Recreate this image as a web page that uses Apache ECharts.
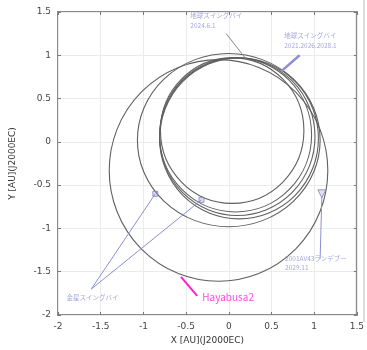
<!DOCTYPE html>
<html><head><meta charset="utf-8">
<script src="https://cdn.jsdelivr.net/npm/echarts@6/dist/echarts.min.js"></script>
<style>html,body{margin:0;padding:0;background:#fff}#c{width:367px;height:350px}</style>
</head><body><div id="c"></div>
<script>
// Orbits: centre x, centre y, radius x, radius y (AU)
var orbitCx = [-0.12, 0.00, 0.12, 0.08, 0.04, 0.10];
var orbitCy = [-0.33, 0.02, 0.04, 0.08, 0.13, 0.06];
var orbitRx = [1.28, 1.07, 0.93, 0.89, 0.84, 0.91];
var orbitRy = [1.28, 1.00, 0.93, 0.89, 0.84, 0.91];

// Event points
var swingPtsX = [-0.86, -0.32];
var swingPtsY = [-0.60, -0.67];
var arrivalX = [1.09];
var arrivalY = [-0.60];

// Annotation texts
var lblTopLeft = ['地球スイングバイ', '2024.6.1'];
var lblTopRight = ['地球スイングバイ', '2021.2026.2028.1'];
var lblBottomRight = ['2001AV43ランデブー', '2029.11'];
var lblBottomLeft = ['金星スイングバイ'];
var lblCraft = 'Hayabusa2';

// Annotation anchors (data coords)
var leadTopLeft = [[-0.03, 1.25], [0.20, 0.96]];
var leadTopRight = [[0.83, 1.00], [0.62, 0.82]];
var leadBottomRight = [[1.07, -1.35], [1.09, -0.63]];
var leadBottomLeftA = [[-1.61, -1.70], [-0.86, -0.60]];
var leadBottomLeftB = [[-1.61, -1.70], [-0.32, -0.67]];
var leadCraft = [[-0.56, -1.56], [-0.37, -1.78]];
var posTopLeft = [-0.45, 1.40];
var posTopRight = [0.65, 1.17];
var posBottomRight = [0.66, -1.40];
var posBottomLeft = [-1.90, -1.80];
var posCraft = [-0.31, -1.79];

var xTicks = [-2, -1.5, -1, -0.5, 0, 0.5, 1, 1.5];
var yTicks = [-2, -1.5, -1, -0.5, 0, 0.5, 1, 1.5];

var orbitData = orbitCx.map(function (c, i) { return [c, orbitCy[i], orbitRx[i], orbitRy[i]]; });

var annoColor = '#8c8fd2';
var chart = echarts.init(document.getElementById('c'));

function leader(pts, color, w) {
  return { type: 'line', data: pts, symbol: 'none', silent: true, z: 4,
    lineStyle: { color: color || annoColor, width: w || 1 }, animation: false };
}
function textSeries(pos, lines, color, size) {
  return { type: 'scatter', data: [pos], symbolSize: 0, silent: true, z: 6, animation: false,
    label: { show: true, position: 'inside', formatter: lines.join('\n'), color: color, fontSize: size,
      fontFamily: 'Noto Sans CJK JP', align: 'left', verticalAlign: 'middle', lineHeight: size + 3 } };
}
function baseAxis(pos, labels, fmtTicks) {
  return {
    type: 'value', min: -2, max: 1.5, interval: 0.5, position: pos,
    axisLine: { show: false, onZero: false },
    axisTick: { show: true, inside: true, length: 3, lineStyle: { color: '#777' } },
    axisLabel: labels ? { color: '#444', fontSize: 9, margin: 7, fontFamily: 'DejaVu Sans',
      formatter: function (v) { return fmtTicks.indexOf(v) >= 0 ? String(v) : ''; } } : { show: false },
    splitLine: { show: labels, lineStyle: { color: '#ebebeb', width: 1 } }
  };
}
var xMain = baseAxis('bottom', true, xTicks);
xMain.name = 'X [AU](J2000EC)'; xMain.nameLocation = 'middle'; xMain.nameGap = 19;
xMain.nameTextStyle = { color: '#333', fontSize: 9, fontFamily: 'DejaVu Sans' };
var yMain = baseAxis('left', true, yTicks);
yMain.name = 'Y [AU](J2000EC)'; yMain.nameLocation = 'middle'; yMain.nameGap = 41;
yMain.nameTextStyle = { color: '#333', fontSize: 9, fontFamily: 'DejaVu Sans' };

chart.setOption({
  animation: false,
  grid: { left: 54, right: 9, top: 12, bottom: 35, show: true, borderColor: '#8a8a8a', borderWidth: 2 },
  xAxis: [xMain, baseAxis('top', false, xTicks)],
  yAxis: [yMain, baseAxis('right', false, yTicks)],
  series: [
    {
      type: 'custom', data: orbitData, z: 3, silent: true, clip: true,
      renderItem: function (params, api) {
        var c = api.coord([api.value(0), api.value(1)]);
        var s = api.size([api.value(2), api.value(3)]);
        return {
          type: 'circle', x: c[0], y: c[1], scaleX: 1, scaleY: s[1] / s[0],
          shape: { cx: 0, cy: 0, r: s[0] },
          style: { fill: 'none', stroke: '#606060', lineWidth: 1.1 }
        };
      }
    },
    leader(leadTopLeft, '#888'),
    leader(leadTopRight, annoColor, 2.5),
    leader(leadBottomRight, annoColor),
    leader(leadBottomLeftA, annoColor),
    leader(leadBottomLeftB, annoColor),
    leader(leadCraft, '#ff1fd6', 2),
    { type: 'scatter', data: swingPtsX.map(function (x, i) { return [x, swingPtsY[i]]; }),
      symbol: 'rect', symbolSize: 5, z: 5, silent: true,
      itemStyle: { color: 'rgba(140,143,210,0.35)', borderColor: '#7d80c0', borderWidth: 1 } },
    { type: 'scatter', data: arrivalX.map(function (x, i) { return [x, arrivalY[i]]; }),
      symbol: 'triangle', symbolRotate: 180, symbolSize: 8, z: 5, silent: true,
      itemStyle: { color: 'rgba(140,143,210,0.35)', borderColor: '#7d80c0', borderWidth: 1 } },
    textSeries(posTopLeft, lblTopLeft, annoColor, 6.5),
    textSeries(posTopRight, lblTopRight, annoColor, 6.5),
    textSeries(posBottomRight, lblBottomRight, annoColor, 6.5),
    textSeries(posBottomLeft, lblBottomLeft, annoColor, 6.5),
    textSeries(posCraft, [lblCraft], '#ff1fd6', 10)
  ],
  graphic: [
    { type: 'line', shape: { x1: 364, y1: 0, x2: 364, y2: 322 }, style: { stroke: '#bbb', lineWidth: 1 }, silent: true }
  ]
});
</script></body></html>
